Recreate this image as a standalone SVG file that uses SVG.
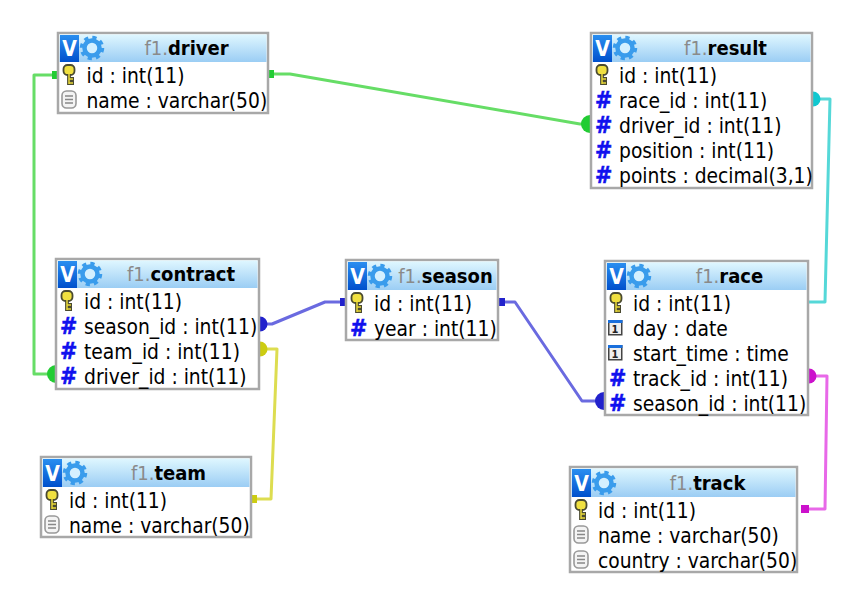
<svg xmlns="http://www.w3.org/2000/svg" width="867" height="596" viewBox="0 0 867 596">
<style>
text{font-family:"DejaVu Sans Condensed","DejaVu Sans",sans-serif;font-stretch:condensed;font-size:20.8px;fill:#000}
.box{fill:#fff;stroke:#a8a8a8;stroke-width:2.5}
.hd{fill:url(#hg)}
.bd{fill:url(#bg)}
.v{fill:#fff;font-weight:bold;font-size:21px;text-anchor:middle}
.h{fill:#1010ee;font-weight:bold;font-size:23px;stroke:#1010ee;stroke-width:0.5px}
.o{font-weight:bold;font-size:11px;text-anchor:middle;fill:#222}
.t{text-anchor:middle;font-size:20px}
.s{fill:#8a8a8a}
.n{font-weight:bold;fill:#000}
.c{fill:none;stroke-width:3;stroke-linejoin:round}
</style>
<defs>
<linearGradient id="hg" x1="0" y1="0" x2="0" y2="1"><stop offset="0" stop-color="#dff7ff"/><stop offset="1" stop-color="#9bcdf4"/></linearGradient>
<linearGradient id="bg" x1="0" y1="0" x2="0" y2="1"><stop offset="0" stop-color="#2a8ef0"/><stop offset="1" stop-color="#0050cc"/></linearGradient>
<g id="gear"><circle r="7.500" fill="#d4f0ff" stroke="#3a9cec" stroke-width="4.500"/><circle r="10.500" fill="none" stroke="#3a9cec" stroke-width="3.500" stroke-dasharray="4.200 4.050"/></g>
<g id="key"><rect x="2.500" y="0" width="11" height="10" rx="4" fill="#f0e040" stroke="#4a4a30" stroke-width="1.800"/><path d="M8 9V20M8 14H13M8 18H13" fill="none" stroke="#4a4a30" stroke-width="3.800"/><path d="M8 9V19M8 14H12M8 18H12" fill="none" stroke="#e8d838" stroke-width="1.500"/></g>
<g id="txt"><rect x="1" y="1" width="14" height="17" rx="4.500" fill="#f4f4f4" stroke="#999" stroke-width="1.600"/><path d="M4 6H12M4 9.500H12M4 13H12" stroke="#888" stroke-width="1.300"/></g>
<g id="cal"><rect x="0.750" y="0.750" width="13" height="14" fill="#eee" stroke="#444" stroke-width="1.500"/><rect x="0" y="0" width="14.500" height="3" fill="#1a6fdc"/></g>
</defs>
<g id="connectors">
<path class="c" stroke="#66dd66" d="M55 75H34V374H56"/>
<path class="c" stroke="#66dd66" d="M270 74H290L580 124H590"/>
<path class="c" stroke="#55d8d8" d="M813 99H830L825 302H809"/>
<path class="c" stroke="#6a6ae0" d="M260 324H272L325 302H345"/>
<path class="c" stroke="#6a6ae0" d="M499 302H515L582 401H604"/>
<path class="c" stroke="#dddd50" d="M260 349H277L271 499H252"/>
<path class="c" stroke="#e868e8" d="M809 376H827L825 509H801"/>
<g fill="#22cc33"><rect x="52" y="71" width="6" height="8"/><rect x="268" y="70" width="6" height="8"/><circle cx="56" cy="374" r="9"/><circle cx="590" cy="124" r="9"/></g>
<g fill="#11c8d0"><circle cx="813" cy="99" r="7.500"/></g>
<g fill="#2222cc"><circle cx="260" cy="324" r="7.500"/><rect x="340" y="298" width="6" height="8"/><rect x="498" y="298" width="7" height="8"/><circle cx="604" cy="401" r="9"/></g>
<g fill="#cccc11"><circle cx="260" cy="349" r="7.500"/><rect x="251" y="495" width="6" height="8"/></g>
<g fill="#cc11cc"><circle cx="809" cy="376" r="7.500"/><rect x="801" y="505" width="8" height="8"/></g>
</g>
<g id="driver" transform="translate(57 32)">
<rect class="box" x="1" y="1" width="210" height="80"/><rect class="hd" x="2.500" y="2.500" width="207" height="27.500"/><rect class="bd" x="3" y="3" width="19" height="27"/><text class="v" x="12.500" y="24">V</text><use href="#gear" x="35" y="16"/>
<text class="t" x="129.500" y="23"><tspan class="s">f1.</tspan><tspan class="n">driver</tspan></text>
<use href="#key" x="4" y="33"/><text x="29.500" y="51">id : int(11)</text>
<use href="#txt" x="4" y="58"/><text x="29.500" y="76">name : varchar(50)</text>
</g>
<g id="result" transform="translate(590 32)">
<rect class="box" x="1" y="1" width="221" height="155"/><rect class="hd" x="2.500" y="2.500" width="218" height="27.500"/><rect class="bd" x="3" y="3" width="19" height="27"/><text class="v" x="12.500" y="24">V</text><use href="#gear" x="35" y="16"/>
<text class="t" x="135.500" y="23"><tspan class="s">f1.</tspan><tspan class="n">result</tspan></text>
<use href="#key" x="4" y="33"/><text x="29" y="51">id : int(11)</text>
<text class="h" x="5" y="76">#</text><text x="29" y="76">race_id : int(11)</text>
<text class="h" x="5" y="101">#</text><text x="29" y="101">driver_id : int(11)</text>
<text class="h" x="5" y="126">#</text><text x="29" y="126">position : int(11)</text>
<text class="h" x="5" y="151">#</text><text x="29" y="151">points : decimal(3,1)</text>
</g>
<g id="contract" transform="translate(55 258)">
<rect class="box" x="1" y="1" width="203" height="130"/><rect class="hd" x="2.500" y="2.500" width="200" height="27.500"/><rect class="bd" x="3" y="3" width="19" height="27"/><text class="v" x="12.500" y="24">V</text><use href="#gear" x="35" y="16"/>
<text class="t" x="126" y="23"><tspan class="s">f1.</tspan><tspan class="n">contract</tspan></text>
<use href="#key" x="4" y="33"/><text x="29" y="51">id : int(11)</text>
<text class="h" x="5" y="76">#</text><text x="29" y="76">season_id : int(11)</text>
<text class="h" x="5" y="101">#</text><text x="29" y="101">team_id : int(11)</text>
<text class="h" x="5" y="126">#</text><text x="29" y="126">driver_id : int(11)</text>
</g>
<g id="season" transform="translate(345 259)">
<rect class="box" x="1" y="1" width="152" height="80"/><rect class="hd" x="2.500" y="2.500" width="149" height="28.500"/><rect class="bd" x="3" y="3" width="19" height="28"/><text class="v" x="12.500" y="25">V</text><use href="#gear" x="35" y="17"/>
<text class="t" x="100.500" y="24"><tspan class="s">f1.</tspan><tspan class="n">season</tspan></text>
<use href="#key" x="4" y="34"/><text x="29" y="52">id : int(11)</text>
<text class="h" x="5" y="77">#</text><text x="29" y="77">year : int(11)</text>
</g>
<g id="race" transform="translate(604 260)">
<rect class="box" x="1" y="1" width="203" height="154"/><rect class="hd" x="2.500" y="2.500" width="200" height="27.500"/><rect class="bd" x="3" y="3" width="19" height="27"/><text class="v" x="12.500" y="24">V</text><use href="#gear" x="35" y="16"/>
<text class="t" x="125.500" y="23"><tspan class="s">f1.</tspan><tspan class="n">race</tspan></text>
<use href="#key" x="4" y="33"/><text x="29" y="51">id : int(11)</text>
<use href="#cal" x="4" y="60"/><text class="o" x="11" y="73">1</text><text x="29" y="76">day : date</text>
<use href="#cal" x="4" y="85"/><text class="o" x="11" y="98">1</text><text x="29" y="101">start_time : time</text>
<text class="h" x="5" y="126">#</text><text x="29" y="126">track_id : int(11)</text>
<text class="h" x="5" y="151">#</text><text x="29" y="151">season_id : int(11)</text>
</g>
<g id="team" transform="translate(40 456)">
<rect class="box" x="1" y="1" width="210" height="80"/><rect class="hd" x="2.500" y="2.500" width="207" height="28.500"/><rect class="bd" x="3" y="3" width="19" height="28"/><text class="v" x="12.500" y="25">V</text><use href="#gear" x="35" y="17"/>
<text class="t" x="128.500" y="24"><tspan class="s">f1.</tspan><tspan class="n">team</tspan></text>
<use href="#key" x="4" y="34"/><text x="29" y="52">id : int(11)</text>
<use href="#txt" x="4" y="59"/><text x="29" y="77">name : varchar(50)</text>
</g>
<g id="track" transform="translate(569 466)">
<rect class="box" x="1" y="1" width="227" height="105"/><rect class="hd" x="2.500" y="2.500" width="224" height="28.500"/><rect class="bd" x="3" y="3" width="19" height="28"/><text class="v" x="12.500" y="25">V</text><use href="#gear" x="35" y="17"/>
<text class="t" x="138.500" y="24"><tspan class="s">f1.</tspan><tspan class="n">track</tspan></text>
<use href="#key" x="4" y="34"/><text x="29" y="52">id : int(11)</text>
<use href="#txt" x="4" y="59"/><text x="29" y="77">name : varchar(50)</text>
<use href="#txt" x="4" y="84"/><text x="29" y="102">country : varchar(50)</text>
</g>
</svg>
